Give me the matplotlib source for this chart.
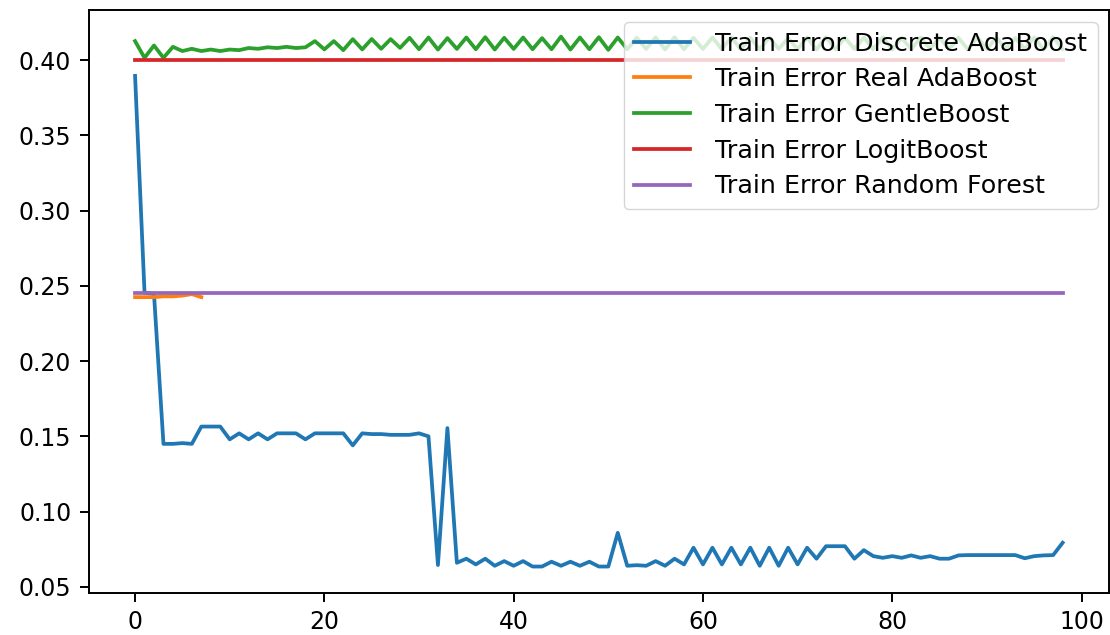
import numpy as np
import matplotlib.pyplot as plt

# 每轮迭代的训练误差
discrete_ada = [
    0.3895, 0.2455, 0.2445, 0.1450, 0.1450, 0.1455, 0.1450, 0.1565, 0.1565, 0.1565,
    0.1480, 0.1520, 0.1480, 0.1520, 0.1480, 0.1520, 0.1520, 0.1520, 0.1480, 0.1520,
    0.1520, 0.1520, 0.1520, 0.1440, 0.1520, 0.1515, 0.1515, 0.1510, 0.1510, 0.1510,
    0.1520, 0.1500, 0.0645, 0.1555, 0.0660, 0.0687, 0.0649, 0.0687, 0.0640, 0.0671,
    0.0640, 0.0671, 0.0635, 0.0635, 0.0667, 0.0640, 0.0667, 0.0640, 0.0667, 0.0635,
    0.0635, 0.0859, 0.0640, 0.0644, 0.0640, 0.0671, 0.0640, 0.0687, 0.0649, 0.0760,
    0.0649, 0.0760, 0.0649, 0.0760, 0.0649, 0.0760, 0.0640, 0.0760, 0.0640, 0.0760,
    0.0649, 0.0760, 0.0687, 0.0770, 0.0770, 0.0770, 0.0687, 0.0744, 0.0704, 0.0693,
    0.0704, 0.0693, 0.0709, 0.0693, 0.0704, 0.0687, 0.0687, 0.0709, 0.0711, 0.0711,
    0.0711, 0.0711, 0.0711, 0.0711, 0.0690, 0.0704, 0.0709, 0.0711, 0.0793,
]

real_ada = [0.2425, 0.2425, 0.2425, 0.2430, 0.2430, 0.2435, 0.2445, 0.2425]

gentle_boost = [
    0.4126, 0.4015, 0.4097, 0.4015, 0.4088, 0.4060, 0.4075, 0.4060, 0.4070, 0.4060,
    0.4070, 0.4066, 0.4080, 0.4075, 0.4085, 0.4080, 0.4088, 0.4080, 0.4085, 0.4126,
    0.4071, 0.4126, 0.4066, 0.4139, 0.4071, 0.4140, 0.4075, 0.4139, 0.4081, 0.4148,
    0.4072, 0.4150, 0.4070, 0.4146, 0.4074, 0.4150, 0.4072, 0.4152, 0.4070, 0.4148,
    0.4074, 0.4150, 0.4072, 0.4146, 0.4072, 0.4156, 0.4070, 0.4150, 0.4072, 0.4152,
    0.4068, 0.4150, 0.4072, 0.4148, 0.4074, 0.4150, 0.4070, 0.4152, 0.4072, 0.4148,
    0.4074, 0.4150, 0.4072, 0.4152, 0.4070, 0.4148, 0.4072, 0.4150, 0.4074, 0.4146,
    0.4072, 0.4150, 0.4070, 0.4152, 0.4072, 0.4148, 0.4074, 0.4150, 0.4072, 0.4152,
    0.4070, 0.4148, 0.4072, 0.4150, 0.4074, 0.4150, 0.4072, 0.4148, 0.4070, 0.4152,
    0.4072, 0.4150, 0.4074, 0.4148, 0.4072, 0.4150, 0.4070, 0.4152, 0.4074,
]

n_rounds = 99
logit_boost = [0.40] * n_rounds
random_forest = [0.2454] * n_rounds

series = [
    ('Train Error Discrete AdaBoost', discrete_ada),
    ('Train Error Real AdaBoost', real_ada),
    ('Train Error GentleBoost', gentle_boost),
    ('Train Error LogitBoost', logit_boost),
    ('Train Error Random Forest', random_forest),
]

# 放大后的默认样式
plt.rcParams.update({
    'font.size': 17,
    'lines.linewidth': 2.7,
    'axes.linewidth': 1.4,
    'xtick.major.size': 6.5,
    'ytick.major.size': 6.5,
    'xtick.major.width': 1.4,
    'ytick.major.width': 1.4,
    'xtick.major.pad': 6,
    'ytick.major.pad': 6,
})

fig = plt.figure(figsize=(11.1, 6.35), dpi=100)
ax = fig.add_axes([0.0799, 0.0661, 0.9192, 0.918])

for label, values in series:
    ax.plot(np.arange(len(values)), values, label=label)

ax.legend(loc='upper right', fontsize=18.3, labelspacing=0.46,
          handlelength=2.2, handletextpad=1.0, borderaxespad=0.45)

fig.savefig('out.png', dpi=100)
